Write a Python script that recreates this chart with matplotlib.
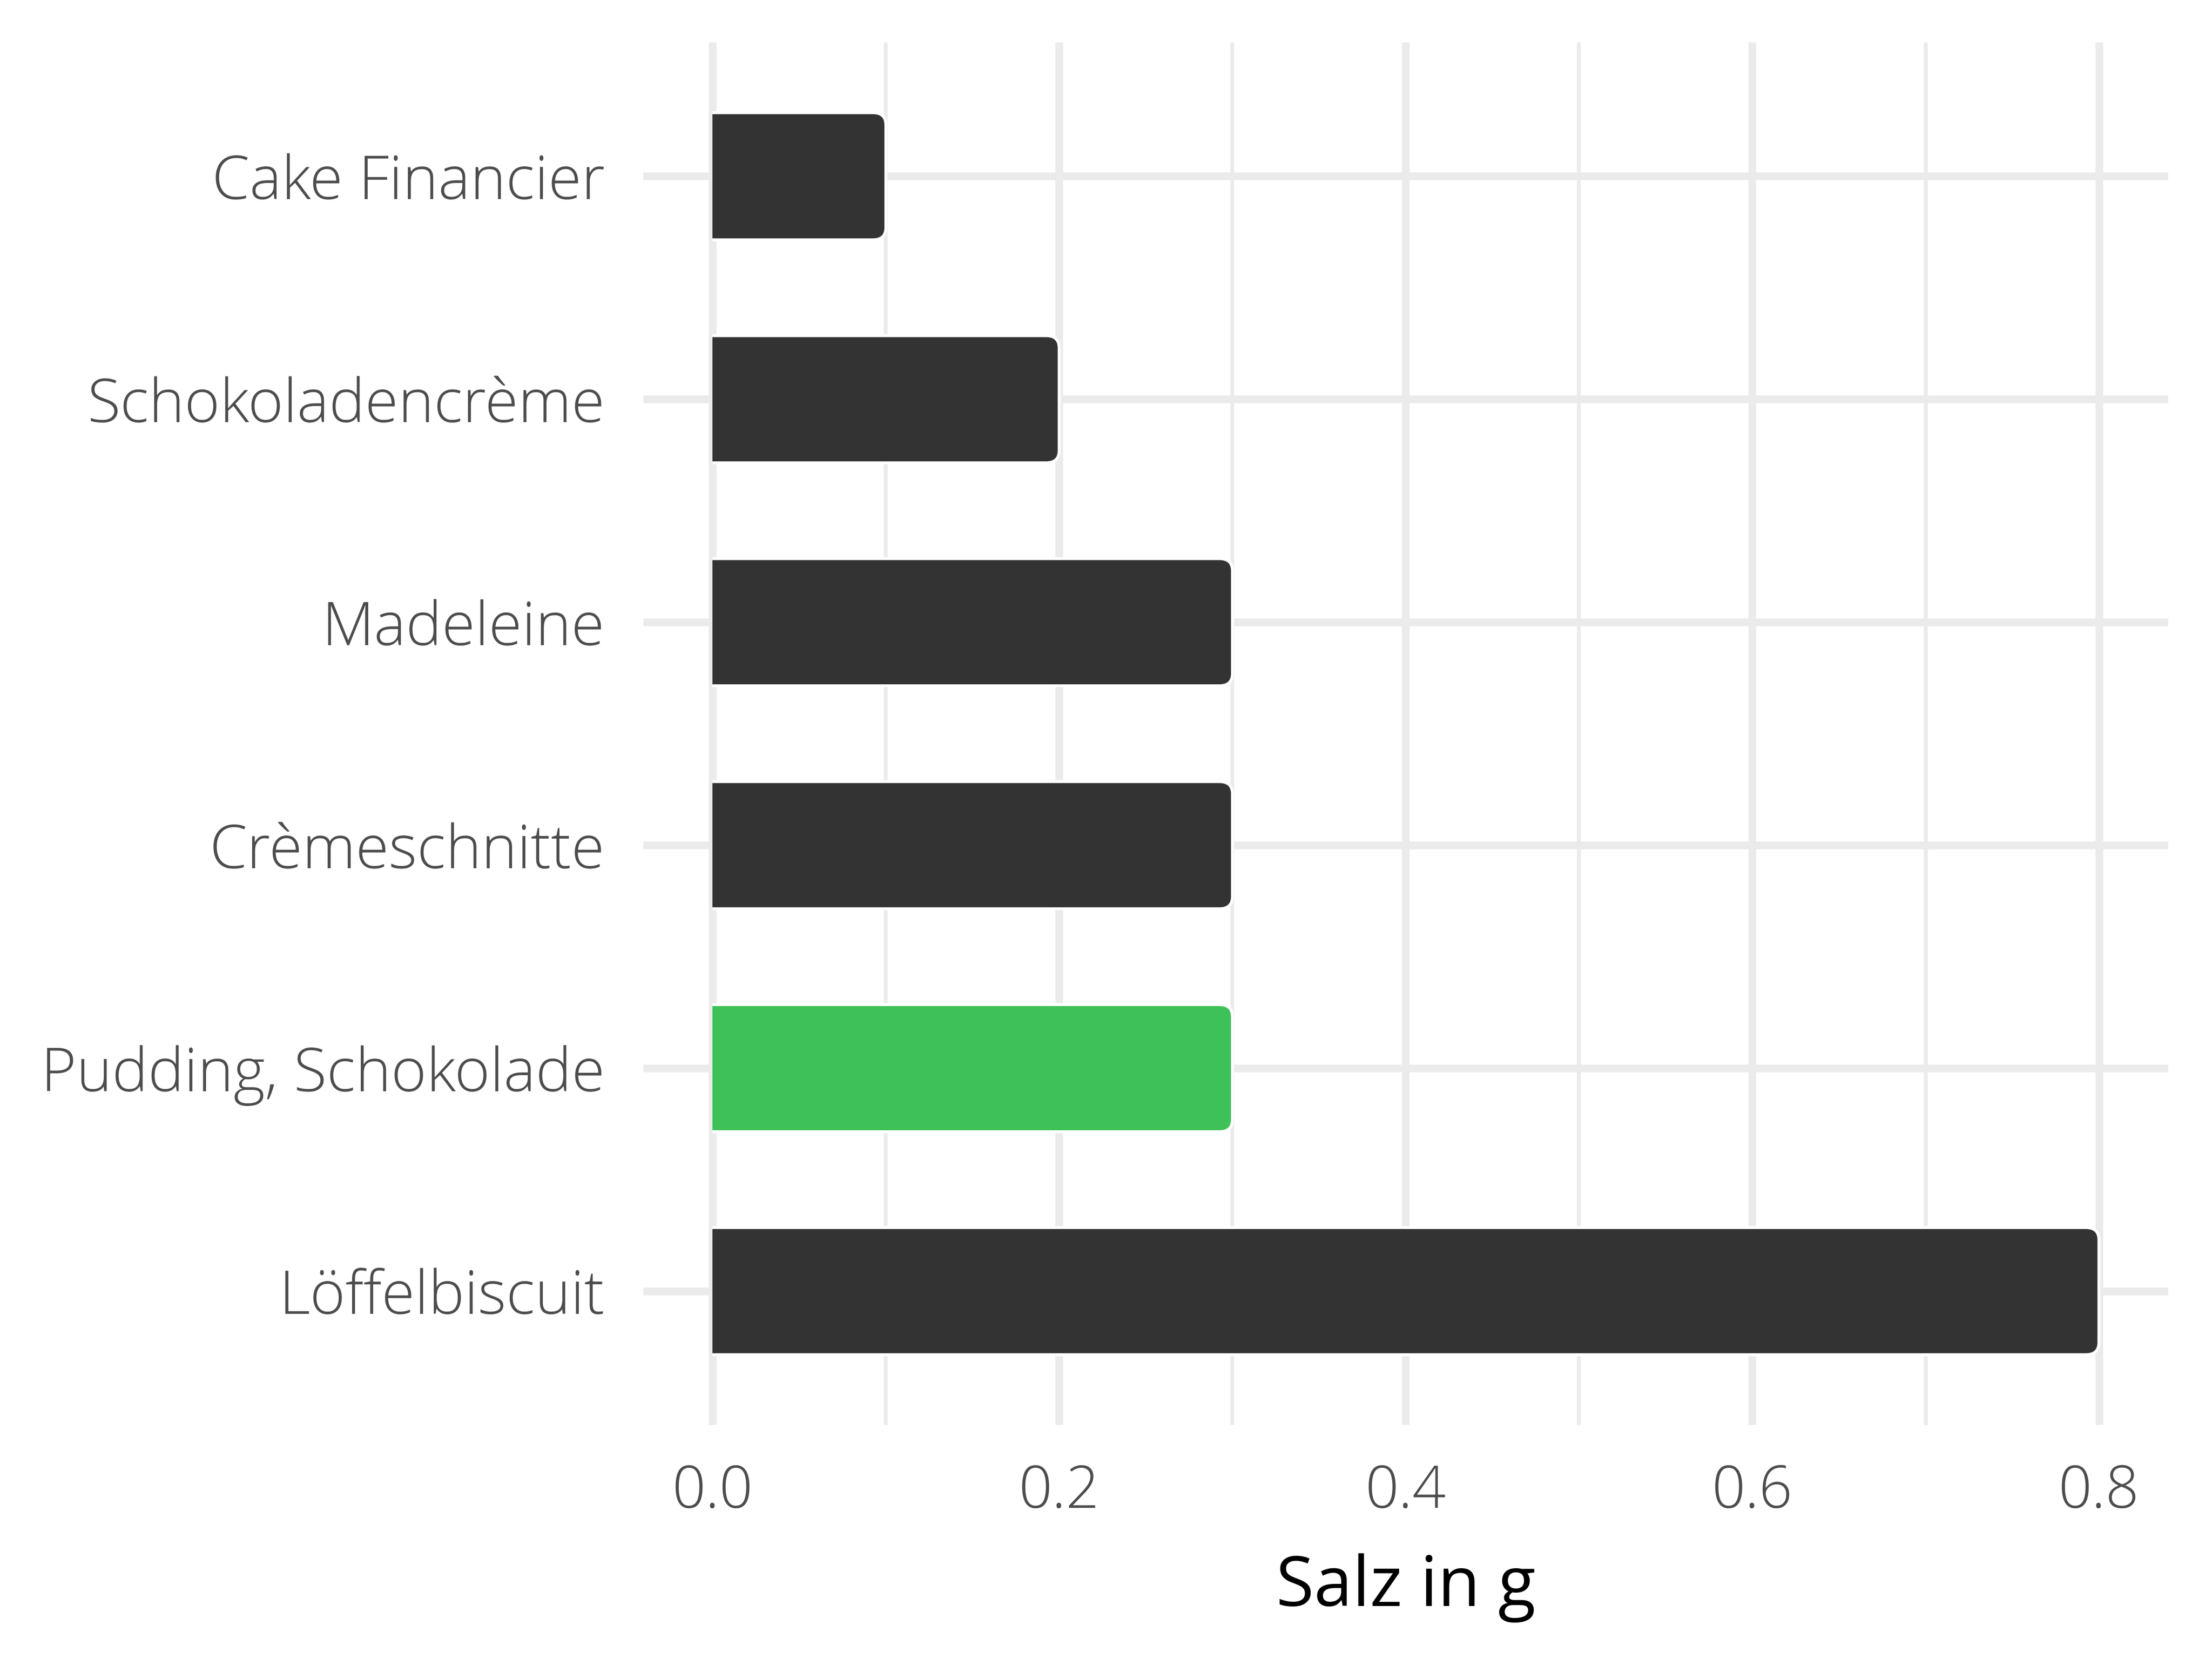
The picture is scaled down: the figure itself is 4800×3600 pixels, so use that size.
import matplotlib
matplotlib.use("Agg")
import matplotlib.pyplot as plt
from matplotlib.patches import FancyBboxPatch, Rectangle

categories = ["Cake Financier", "Schokoladencrème", "Madeleine", "Crèmeschnitte",
              "Pudding, Schokolade", "Löffelbiscuit"]
values = [0.1, 0.2, 0.3, 0.3, 0.3, 0.8]
colors = ["#333333", "#333333", "#333333", "#333333", "#3EC158", "#333333"]
xticks = [0.0, 0.2, 0.4, 0.6, 0.8]
xtick_labels = ["0.0", "0.2", "0.4", "0.6", "0.8"]
xlabel = "Salz in g"

plt.rcParams['font.family'] = ['Open Sans', 'DejaVu Sans']

fig = plt.figure(figsize=(16, 12), dpi=300)
ax = fig.add_axes([0.2908, 0.1411, 0.9802 - 0.2908, 0.9744 - 0.1411])

n = len(categories)
ypos = [n - i for i in range(n)]
bh = 0.57
bars = ax.barh(ypos, values, height=bh, color=colors, edgecolor="none")

r_x = 0.0075
aspect = 0.055 / r_x
for b, c in zip(bars, colors):
    x0, y0, w, h = b.get_x(), b.get_y(), b.get_width(), b.get_height()
    b.set_visible(False)
    fp = FancyBboxPatch((x0 - 3 * r_x, y0), w + 3 * r_x, h,
                        boxstyle=f"round,pad=0,rounding_size={r_x}",
                        mutation_aspect=aspect, facecolor=c, edgecolor="white",
                        linewidth=1.5, zorder=3)
    ax.add_patch(fp)
    clip = Rectangle((x0, y0 - h), w + 1.0, 3 * h, transform=ax.transData,
                     facecolor="none", edgecolor="none")
    fp.set_clip_path(clip)

ax.set_xlim(-0.04, 0.84)
ax.set_ylim(0.4, n + 0.6)
ax.set_yticks(ypos)
ax.set_yticklabels(categories)
ax.set_xticks(xticks)
ax.set_xticklabels(xtick_labels)
ax.set_xticks([0.1, 0.3, 0.5, 0.7], minor=True)

ax.grid(True, which="major", axis="both", color="#EBEBEB", linewidth=4.0, zorder=0)
ax.grid(True, which="minor", axis="x", color="#EBEBEB", linewidth=2.0, zorder=0)
ax.set_axisbelow(True)
for s in ax.spines.values():
    s.set_visible(False)
ax.tick_params(axis="both", which="both", length=0)
ax.tick_params(axis="y", labelsize=31.5, labelcolor="#4D4D4D", pad=20)
ax.tick_params(axis="x", labelsize=30.5, labelcolor="#4D4D4D", pad=20)
for lab in ax.get_xticklabels() + ax.get_yticklabels():
    lab.set_fontweight("light")
ax.set_xlabel(xlabel, fontsize=36, color="black", labelpad=16)

fig.savefig("out.png", dpi=300, facecolor="white")
